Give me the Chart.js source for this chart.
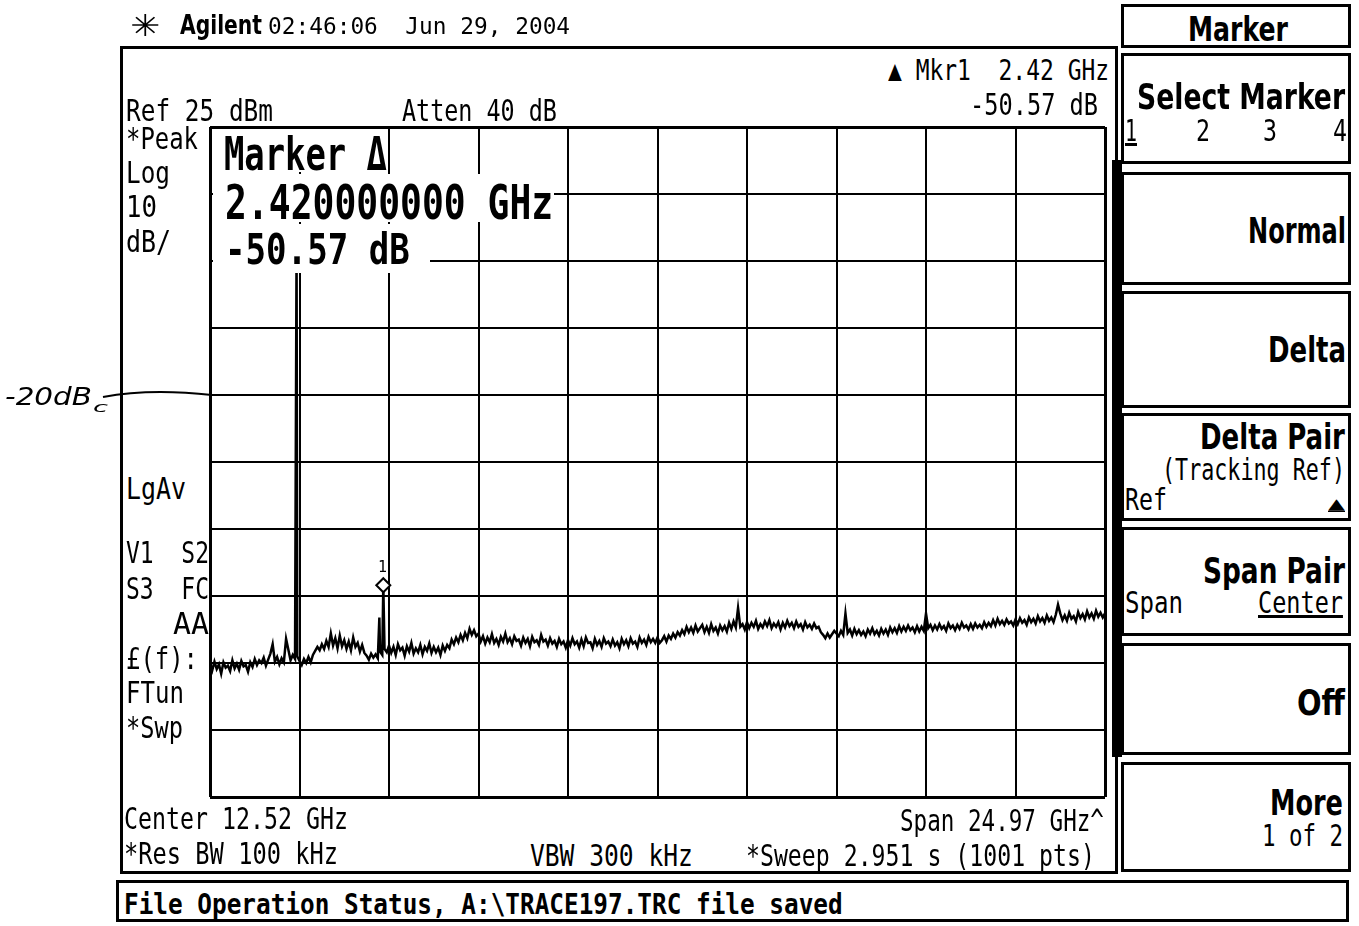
<!DOCTYPE html>
<html>
<head>
<meta charset="utf-8">
<script src="https://cdn.jsdelivr.net/npm/chart.js@4.4.1/dist/chart.umd.min.js"></script>
<style>
body { margin:0; background:#fff; width:1359px; height:926px; overflow:hidden; position:relative; }
.box { position:absolute; border:3px solid #000; box-sizing:border-box; }
.lbl { position:absolute; white-space:pre; line-height:1; color:#000; transform-origin:0 0; z-index:3; }
.mask { position:absolute; background:#fff; z-index:2; }
#plot { position:absolute; left:201px; top:118px; width:913px; height:688px; z-index:1; }
</style>
</head>
<body>
<div id="plot"><canvas id="spectrum"></canvas></div>
<svg style="position:absolute;left:0;top:0;z-index:3" width="230" height="420">
  <path d="M 103 397 Q 150 388 212 395" stroke="#000" stroke-width="2" fill="none"/>
</svg>
<script>
// sweep settings: center 12.52 GHz, span 24.97 GHz
const startGHz = 0.035;
const stopGHz = 25.005;
const refLevel = 25;     // dBm, top of the screen
const bottomLevel = -75; // 10 dB/div, 10 divisions

// trace level (dBm), evenly spaced over the sweep
const traceLevels = [
  -55.0,-56.1,-54.8,-55.9,-55.2,-56.6,-54.9,-55.7,-55.4,-56.2,-54.6,-55.8,-55.1,-56.0,-54.7,-55.5,-55.3,-56.3,-54.9,-55.6,
  -54.4,-55.3,-54.6,-55.0,-54.2,-55.4,-54.5,-53.6,-52.2,-54.8,-54.1,-55.2,-54.3,-54.9,-51.4,-53.0,-54.6,-53.8,-54.4,-54.0,
  -54.7,-55.3,-54.4,-55.0,-54.1,-54.9,-53.8,-53.2,-52.6,-53.1,-52.2,-52.9,-51.7,-52.6,-50.6,-52.4,-51.3,-52.8,-50.9,-52.5,
  -51.6,-52.9,-51.8,-53.1,-51.2,-52.6,-52.0,-53.3,-52.3,-53.5,-53.9,-54.5,-53.6,-54.2,-53.7,-54.3,-53.3,-53.8,-52.9,-53.4,
  -52.4,-53.5,-52.6,-53.8,-52.2,-53.1,-52.7,-53.9,-52.5,-53.3,-52.0,-53.6,-52.8,-53.4,-52.3,-53.7,-52.6,-53.2,-52.1,-53.5,
  -52.6,-53.4,-52.7,-53.8,-52.4,-53.2,-52.3,-52.8,-51.5,-52.2,-51.2,-51.9,-50.8,-51.6,-50.5,-51.3,-49.9,-50.8,-50.1,-51.0,
  -50.6,-51.8,-51.0,-52.1,-51.2,-51.9,-50.7,-52.0,-51.4,-52.3,-51.1,-51.8,-50.6,-51.9,-51.3,-52.2,-51.0,-51.7,-51.5,-52.4,
  -51.2,-52.0,-51.4,-52.5,-51.1,-51.9,-51.6,-52.3,-50.8,-51.8,-51.5,-52.4,-51.3,-52.1,-51.7,-52.6,-51.4,-52.2,-51.8,-52.7,
  -51.6,-52.4,-51.3,-52.2,-51.8,-52.7,-51.5,-52.5,-51.2,-52.0,-51.9,-52.8,-51.4,-52.3,-51.7,-52.6,-51.3,-52.1,-51.8,-52.5,
  -51.5,-52.4,-51.9,-52.8,-51.4,-52.2,-51.6,-52.5,-51.3,-52.1,-51.8,-52.6,-51.2,-52.0,-51.5,-52.3,-51.1,-51.9,-51.4,-52.0,
  -51.2,-52.0,-51.6,-51.0,-51.8,-50.9,-51.4,-50.6,-51.2,-50.4,-50.9,-50.1,-50.7,-49.6,-50.4,-49.7,-50.5,-49.4,-50.3,-49.8,
  -49.3,-50.4,-49.6,-50.5,-49.2,-50.2,-49.7,-50.6,-49.4,-50.1,-49.5,-50.3,-49.0,-49.9,-48.8,-49.7,-46.8,-49.6,-49.2,-50.0,
  -48.9,-49.8,-49.0,-49.6,-48.7,-49.9,-49.2,-49.7,-48.8,-49.5,-48.6,-49.8,-49.1,-49.6,-48.9,-50.0,-49.0,-49.7,-48.7,-49.5,
  -49.0,-49.8,-48.8,-49.6,-49.2,-50.0,-48.9,-49.7,-49.3,-49.9,-49.1,-49.8,-49.6,-50.4,-50.8,-51.3,-50.6,-51.2,-50.7,-50.2,
  -50.6,-51.0,-50.2,-50.8,-47.6,-50.5,-50.0,-50.9,-49.9,-50.7,-50.1,-50.8,-50.3,-51.0,-50.0,-50.6,-49.8,-50.7,-50.2,-50.9,
  -49.9,-50.6,-50.0,-50.8,-49.7,-50.4,-49.8,-50.5,-49.5,-50.3,-49.6,-50.2,-49.4,-50.1,-49.7,-50.4,-49.5,-50.3,-49.6,-50.2,
  -47.6,-49.8,-49.3,-50.1,-49.4,-50.0,-49.2,-49.9,-49.5,-50.2,-49.1,-49.8,-49.4,-50.1,-49.3,-49.9,-49.0,-49.7,-49.4,-50.0,
  -49.2,-49.9,-49.1,-49.7,-49.3,-49.8,-48.9,-49.6,-49.0,-49.5,-48.6,-49.4,-48.4,-49.2,-48.7,-49.3,-48.5,-49.1,-48.8,-49.4,
  -48.5,-49.2,-48.3,-49.0,-48.6,-49.3,-48.2,-48.9,-48.4,-49.1,-48.0,-48.8,-48.3,-49.0,-47.9,-48.7,-48.2,-48.9,-47.8,-46.3,
  -47.6,-48.6,-47.9,-48.7,-47.5,-48.4,-48.0,-48.8,-47.4,-48.3,-47.7,-48.5,-47.3,-48.2,-47.6,-48.4,-47.2,-48.1,-47.5,-48.2,
  -47.6
];

// narrow spurs: fundamental, a small spur and the 2nd harmonic
const spikeFreqs = [2.45, 4.76, 4.87];
const spikeLevels = [7.2, -48.2, -43.4];

// delta marker 1
const markerFreqs = [4.87];
const markerLevels = [-43.4];

// screen text: [text, x left, x right, baseline, cap height, style, underline]
const screenText = [
  ['✳', 130, 160, 34, 22, 's'],
  ['Agilent', 180, 262, 32, 20, 'sb'],
  ['02:46:06  Jun 29, 2004', 268, 570, 32, 17, 'm'],
  ['Ref 25 dBm', 126, 273, 119, 22, 'm'],
  ['Atten 40 dB', 402, 557, 119, 22, 'm'],
  ['▲ Mkr1  2.42 GHz', 888, 1109, 77, 21, 'm'],
  ['-50.57 dB', 970, 1098, 113, 22, 'm'],
  ['*Peak', 126, 198, 147, 22, 'm'],
  ['Log', 126, 170, 181, 22, 'm'],
  ['10', 126, 157, 215, 22, 'm'],
  ['dB/', 126, 171, 250, 22, 'm'],
  ['LgAv', 126, 186, 497, 22, 'm'],
  ['V1  S2', 126, 209, 561, 22, 'm'],
  ['S3  FC', 126, 209, 597, 22, 'm'],
  ['AA', 173, 209, 632, 22, 'm'],
  ['£(f):', 126, 198, 667, 22, 'm'],
  ['FTun', 126, 184, 701, 22, 'm'],
  ['*Swp', 126, 183, 736, 22, 'm'],
  ['Center 12.52 GHz', 124, 348, 827, 22, 'm'],
  ['Span 24.97 GHz^', 900, 1104, 829, 22, 'm'],
  ['*Res BW 100 kHz', 124, 338, 862, 22, 'm'],
  ['VBW 300 kHz', 530, 693, 864, 22, 'm'],
  ['*Sweep 2.951 s (1001 pts)', 746, 1095, 864, 22, 'm'],
  ['File Operation Status, A:\\TRACE197.TRC file saved', 124, 843, 911, 21, 'mb'],
  ['Marker Δ', 224, 387, 166, 33, 'mb'],
  ['2.420000000 GHz', 225, 553, 215, 35, 'mb'],
  ['-50.57 dB', 225, 410, 261, 31, 'mb'],
  ['1', 378, 387, 571, 12, 'm'],
  ['Marker', 1188, 1288, 38, 25, 'sb'],
  ['Select Marker', 1137, 1345, 106, 26, 'sb'],
  ['1', 1125, 1137, 139, 22, 'm', true],
  ['2', 1196, 1210, 139, 22, 'm'],
  ['3', 1263, 1277, 139, 22, 'm'],
  ['4', 1333, 1347, 139, 22, 'm'],
  ['Normal', 1248, 1346, 240, 26, 'sb'],
  ['Delta', 1268, 1346, 359, 26, 'sb'],
  ['Delta Pair', 1200, 1345, 446, 26, 'sb'],
  ['(Tracking Ref)', 1162, 1345, 478, 22, 'm'],
  ['Ref', 1125, 1167, 508, 22, 'm'],
  ['▲', 1328, 1345, 508, 14, 'm', true],
  ['Span Pair', 1203, 1345, 580, 26, 'sb'],
  ['Span', 1125, 1183, 611, 22, 'm'],
  ['Center', 1258, 1343, 611, 22, 'm', true],
  ['Off', 1297, 1345, 712, 26, 'sb'],
  ['More', 1270, 1343, 812, 26, 'sb'],
  ['1 of 2', 1262, 1343, 844, 22, 'm'],
  ['-20dB', 5, 92, 403, 18, 'h'],
  ['c', 93, 108, 411, 10, 'h']
];

const fonts = {
  m:  '"DejaVu Sans Mono", monospace',
  mb: 'bold "DejaVu Sans Mono", monospace',
  s:  '"DejaVu Sans", sans-serif',
  sb: 'bold "DejaVu Sans Condensed", "DejaVu Sans", sans-serif',
  h:  'italic 200 "DejaVu Sans", sans-serif'
};

// frames: [left, top, width, height]
const frames = [
  [120, 46, 998, 828],     // analyzer display
  [116, 880, 1233, 42],    // status line
  [1121, 4, 230, 44],      // softkey title
  [1121, 53, 230, 111],
  [1121, 172, 230, 113],
  [1121, 291, 230, 117],
  [1121, 413, 230, 108],
  [1121, 527, 230, 109],
  [1121, 643, 230, 112],
  [1121, 762, 230, 110]
];
frames.forEach(f => {
  const d = document.createElement('div');
  d.className = 'box';
  d.style.left = f[0] + 'px'; d.style.top = f[1] + 'px';
  d.style.width = f[2] + 'px'; d.style.height = f[3] + 'px';
  document.body.appendChild(d);
});
const bar = document.createElement('div');
bar.style.cssText = 'position:absolute;left:1112px;top:160px;width:10px;height:597px;background:#000';
document.body.appendChild(bar);

// white boxes behind the big marker readout
[[213, 129, 173, 43], [213, 174, 341, 48], [213, 224, 217, 49]].forEach(m => {
  const d = document.createElement('div');
  d.className = 'mask';
  d.style.left = m[0] + 'px'; d.style.top = m[1] + 'px';
  d.style.width = m[2] + 'px'; d.style.height = m[3] + 'px';
  document.body.appendChild(d);
});

screenText.forEach(t => {
  const size = t[4] / 0.729;
  const d = document.createElement('div');
  d.className = 'lbl';
  d.textContent = t[0];
  d.style.font = fonts[t[5]].replace(/^((?:bold |italic |200 )*)/, '$1' + size.toFixed(1) + 'px ');
  d.style.left = t[1] + 'px';
  d.style.top = (t[3] - 0.846 * size) + 'px';
  if (t[6]) d.style.textDecoration = 'underline';
  document.body.appendChild(d);
  const w = d.getBoundingClientRect().width;
  d.style.transform = 'scaleX(' + ((t[2] - t[1]) / w).toFixed(3) + ')';
});

// trace points, spurs merged in by frequency
const step = (stopGHz - startGHz) / (traceLevels.length - 1);
const tracePts = traceLevels.map((v, i) => ({ x: startGHz + i * step, y: v }));
spikeFreqs.forEach((f, i) => tracePts.push({ x: f, y: spikeLevels[i] }));
tracePts.sort((a, b) => a.x - b.x);

const gridFreqs = [];
for (let k = 0; k <= 10; k++) gridFreqs.push(startGHz + k * (stopGHz - startGHz) / 10);

const edgeWidth = c => (c.index === 0 || c.index === 10) ? 3 : 2;

new Chart(document.getElementById('spectrum'), {
  type: 'line',
  data: {
    datasets: [
      {
        label: 'Marker 1',
        data: markerFreqs.map((f, i) => ({ x: f, y: markerLevels[i] })),
        showLine: false,
        pointStyle: 'rectRot',
        pointRadius: 7,
        pointBackgroundColor: '#fff',
        pointBorderColor: '#000',
        pointBorderWidth: 2
      },
      {
        label: 'Trace',
        data: tracePts,
        borderColor: '#000',
        borderWidth: 2.5,
        pointRadius: 0,
        tension: 0
      }
    ]
  },
  options: {
    responsive: true,
    maintainAspectRatio: false,
    animation: false,
    layout: { padding: 5 },
    plugins: { legend: { display: false }, tooltip: { enabled: false } },
    scales: {
      x: {
        type: 'linear', min: startGHz, max: stopGHz,
        afterBuildTicks: axis => { axis.ticks = gridFreqs.map(v => ({ value: v })); },
        ticks: { display: false },
        border: { display: false },
        grid: { color: '#000', lineWidth: edgeWidth, drawTicks: false }
      },
      y: {
        min: bottomLevel, max: refLevel,
        ticks: { display: false, stepSize: 10 },
        border: { display: false },
        grid: { color: '#000', lineWidth: edgeWidth, drawTicks: false }
      }
    }
  }
});
</script>
</body>
</html>
